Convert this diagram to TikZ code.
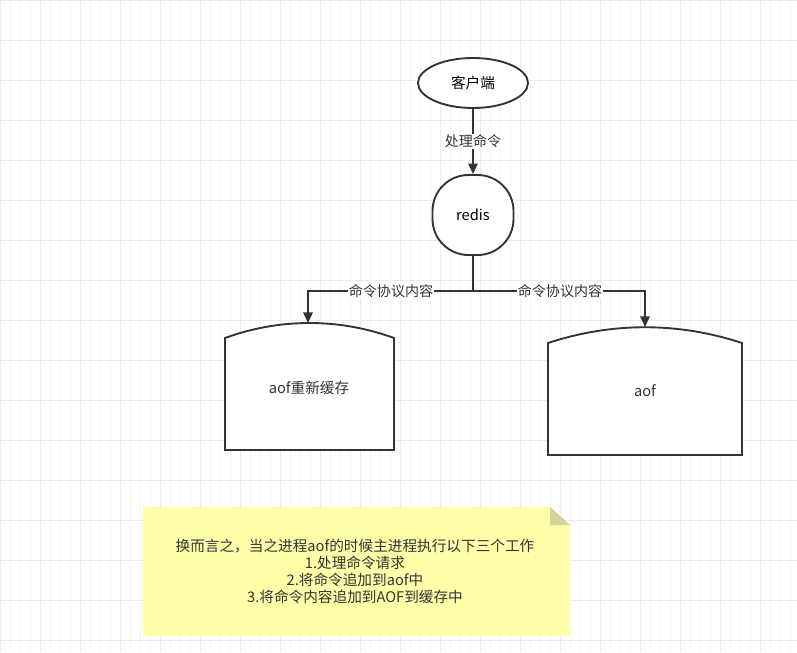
\documentclass[tikz,border=0pt]{standalone}
\usepackage{fontspec}
\setmainfont{Noto Sans CJK SC}
\usetikzlibrary{shapes.geometric,arrows.meta}
\definecolor{linegray}{HTML}{333333}
\definecolor{notefill}{HTML}{FFFFAA}
\definecolor{notefold}{HTML}{D4D49A}
\tikzset{
  box/.style={draw=linegray,line width=1.6pt,fill=white,font=\fontsize{12.5}{14}\selectfont},
  link/.style={draw=linegray,line width=1.6pt,-{Triangle[length=9pt,width=8pt]}},
  lbl/.style={fill=white,inner sep=1pt,font=\fontsize{12}{14}\selectfont,text=linegray}
}
\begin{document}
\begin{tikzpicture}[x=0.03cm,y=-0.03cm]
\useasboundingbox (0,0) rectangle (797,652);
% grid
\draw[black!4,line width=0.4pt] (0,0) grid[step=10] (797,652);
\foreach \x in {0,40,...,797}{\draw[black!8,line width=0.5pt] (\x,0) -- (\x,652);}
\foreach \y in {0,40,...,652}{\draw[black!8,line width=0.5pt] (0,\y) -- (797,\y);}
% nodes
\node[box,ellipse,minimum width=110*0.03cm,minimum height=50*0.03cm] (client) at (473,83) {客户端};
\node[box,rectangle,rounded corners=36*0.03cm,minimum width=81*0.03cm,minimum height=80*0.03cm] (redis) at (473,215) {redis};
% storage shapes
\draw[box] (225,450) -- (225,338) .. controls (280,318) and (339,318) .. (394,338) -- (394,450) -- cycle;
\node[font=\fontsize{12.5}{14}\selectfont,text=linegray] (cache) at (309,388) {aof重新缓存};
\draw[box] (548,455) -- (548,343) .. controls (612,322) and (678,322) .. (742,343) -- (742,455) -- cycle;
\node[font=\fontsize{12.5}{14}\selectfont,text=linegray] (aof) at (645,391) {aof};
\coordinate (cachetop) at (308,323);
\coordinate (aoftop) at (645,327);
% connectors
\draw[link] (client) -- node[lbl]{处理命令} (redis);
\draw[link] (redis.south) |- (391,291) node[lbl]{命令协议内容} -| (cachetop);
\draw[link] (redis.south) |- (560,291) node[lbl]{命令协议内容} -| (aoftop);
% note
\fill[notefill] (143,507) -- (550,507) -- (570,525) -- (570,636) -- (143,636) -- cycle;
\fill[notefold] (550,507) -- (570,525) -- (550,525) -- cycle;
\node[align=center,font=\fontsize{12.5}{14.5}\selectfont,text=linegray] (note) at (355,571)
 {换而言之，当之进程aof的时候主进程执行以下三个工作\\1.处理命令请求\\2.将命令追加到aof中\\3.将命令内容追加到AOF到缓存中};
\end{tikzpicture}
\end{document}
